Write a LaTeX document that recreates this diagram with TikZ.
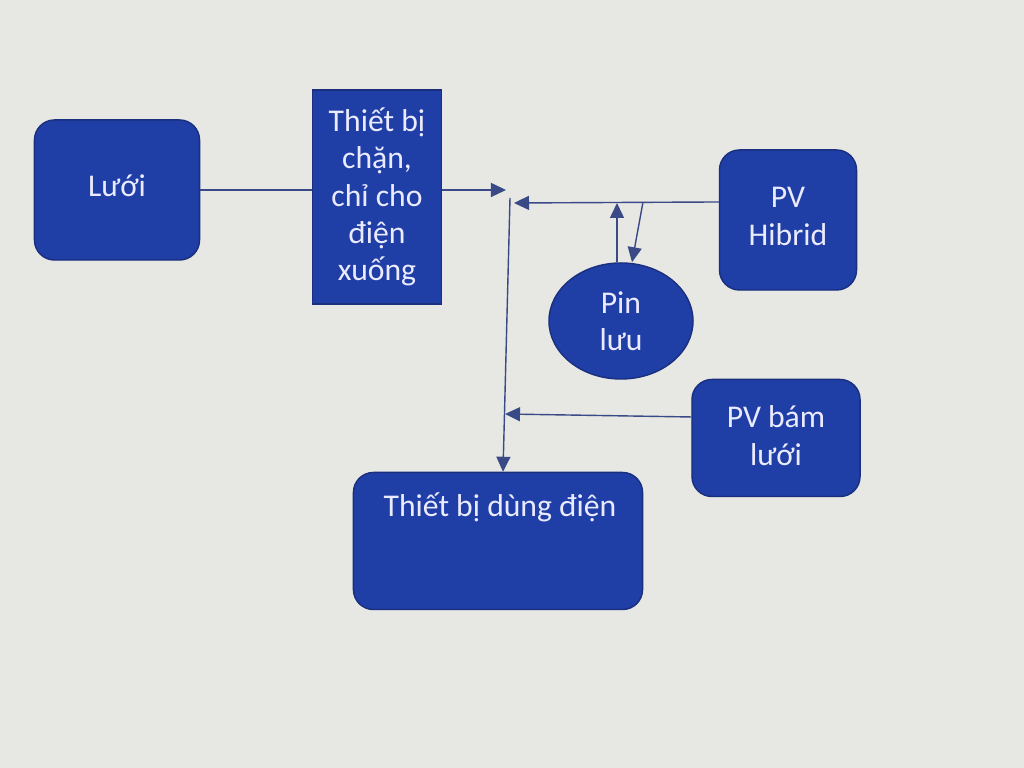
\documentclass[tikz,border=0pt]{standalone}
\usepackage{fontspec}
\setmainfont{Carlito}
\usetikzlibrary{arrows.meta,shapes.geometric}

\definecolor{boxblue}{HTML}{1F3EA6}
\definecolor{edgeblue}{HTML}{1A2F7E}
\definecolor{lineblue}{HTML}{3A4A86}
\definecolor{paper}{HTML}{E7E7E4}

\tikzset{
  khoi/.style={draw=edgeblue, fill=boxblue, text=white!92!blue, align=center,
    font=\fontsize{9}{10.6}\selectfont},
  bo/.style={khoi, rounded corners=0.2cm},
  day/.style={lineblue, line width=0.4pt},
  mui/.style={day, -{Triangle[length=0.15cm,width=0.14cm]}}
}

\begin{document}
\begin{tikzpicture}[x=0.01cm,y=-0.01cm]
  \fill[paper] (0,0) rectangle (1024,768);
  \useasboundingbox (0,0) rectangle (1024,768);

  % cac khoi
  \node[bo, minimum width=1.65cm, minimum height=1.4cm] (luoi) at (117,190) {\raisebox{0.08cm}{Lưới}};
  \node[khoi, minimum width=1.29cm, minimum height=2.14cm] (chan) at (377,197)
    {Thiết bị\\chặn,\\chỉ cho\\điện\\xuống};
  \node[bo, minimum width=1.37cm, minimum height=1.4cm] (hibrid) at (788,220) {\raisebox{0.07cm}{PV}\\\raisebox{0.07cm}{Hibrid}};
  \node[ellipse, khoi, minimum width=1.44cm, minimum height=1.16cm, inner sep=0pt] (pin) at (621,321) {Pin\\lưu};
  \node[bo, minimum width=1.68cm, minimum height=1.17cm] (bam) at (776,438) {\raisebox{0.05cm}{PV bám}\\\raisebox{0.05cm}{lưới}};
  \node[bo, minimum width=2.89cm, minimum height=1.37cm] (tai) at (498,541) {};
  \node[text=white!92!blue, font=\fontsize{9}{10.6}\selectfont] (taichu) at (500,507) {Thiết bị dùng điện};

  % diem noi
  \coordinate (vao) at (506,190);
  \coordinate (doc) at (510,198);
  \coordinate (ngang) at (514,203);
  \coordinate (re) at (643,202);
  \coordinate (len) at (617,203);
  \coordinate (bamvao) at (505,414);

  % duong noi
  \draw[day] (luoi.east) -- (luoi.east -| chan.west);
  \draw[mui] (chan.east |- vao) -- (vao);
  \draw[mui] (doc) -- (tai.north -| 503,0);
  \draw[mui] ([yshift=0.18cm]hibrid.west) -- (ngang);
  \draw[mui] (pin.north -| len) -- (len);
  \draw[mui] (re) -- (pin.north -| 632,0);
  \draw[mui] ([yshift=0.21cm]bam.west) -- (bamvao);
\end{tikzpicture}
\end{document}
